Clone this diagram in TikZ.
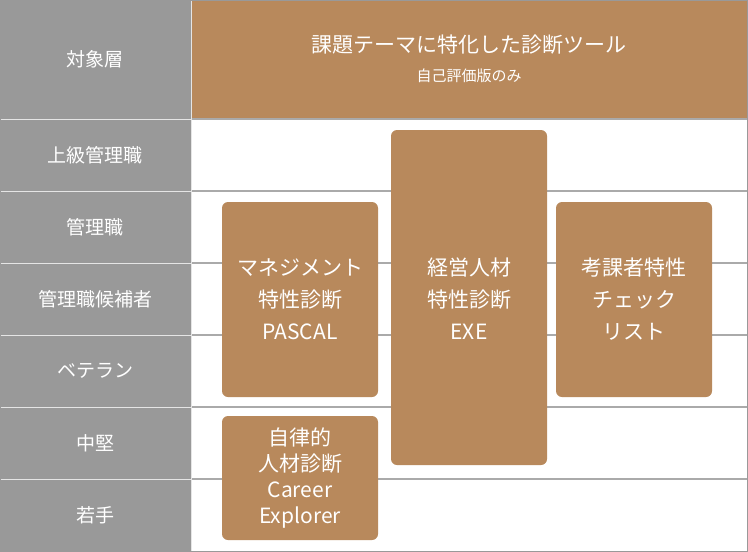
\documentclass[tikz,border=0pt]{standalone}
\usepackage{fontspec}
\setmainfont{Noto Sans CJK JP}
\definecolor{gr}{HTML}{999999}
\definecolor{br}{HTML}{B8895C}
\definecolor{ln}{HTML}{AAAAAA}
\begin{document}
\begin{tikzpicture}[x=1pt,y=-1pt,
  lab/.style={text=white,font=\fontsize{19}{22}\selectfont},
  box/.style={fill=br,rounded corners=6pt,text=white,align=center,font=\fontsize{21}{32}\selectfont,inner sep=0pt}]
\useasboundingbox (0,0) rectangle (748,552);
\fill[white] (0,0) rectangle (748,552);
\fill[gr] (0,0) rectangle (191,552);
\fill[br] (191,0) rectangle (748,119);
\foreach \y in {119,191,263,335,407,479}{
  \draw[ln,line width=1.2pt] (191,\y) -- (748,\y);
  \draw[white!80!gray,line width=1pt] (0,\y) -- (191,\y);}
\draw[white!80!gray,line width=1pt] (191,0) -- (191,552);
\draw[gr,line width=2pt] (0,0) rectangle (748,552);
\node[lab] (h0) at (95,59) {対象層};
\node[lab] (h1) at (95,155) {上級管理職};
\node[lab] (h2) at (95,227) {管理職};
\node[lab] (h3) at (95,299) {管理職候補者};
\node[lab] (h4) at (95,371) {ベテラン};
\node[lab] (h5) at (95,443) {中堅};
\node[lab] (h6) at (95,515) {若手};
\node[text=white,font=\fontsize{21}{26}\selectfont] (t) at (469,45) {課題テーマに特化した診断ツール};
\node[text=white,font=\fontsize{15}{18}\selectfont] (t2) at (469,76) {自己評価版のみ};
\fill[br,rounded corners=6pt] (222,202) rectangle (378,397);
\node[box] (b1) at (300,299) {マネジメント\\特性診断\\PASCAL};
\fill[br,rounded corners=6pt] (391,130) rectangle (547,465);
\node[box] (b2) at (469,299) {経営人材\\特性診断\\EXE};
\fill[br,rounded corners=6pt] (556,202) rectangle (712,397);
\node[box] (b3) at (634,299) {考課者特性\\チェック\\リスト};
\fill[br,rounded corners=6pt] (222,416) rectangle (378,540);
\node[box,font=\fontsize{21}{26}\selectfont] (b4) at (300,478) {自律的\\人材診断\\Career\\Explorer};
\end{tikzpicture}
\end{document}
